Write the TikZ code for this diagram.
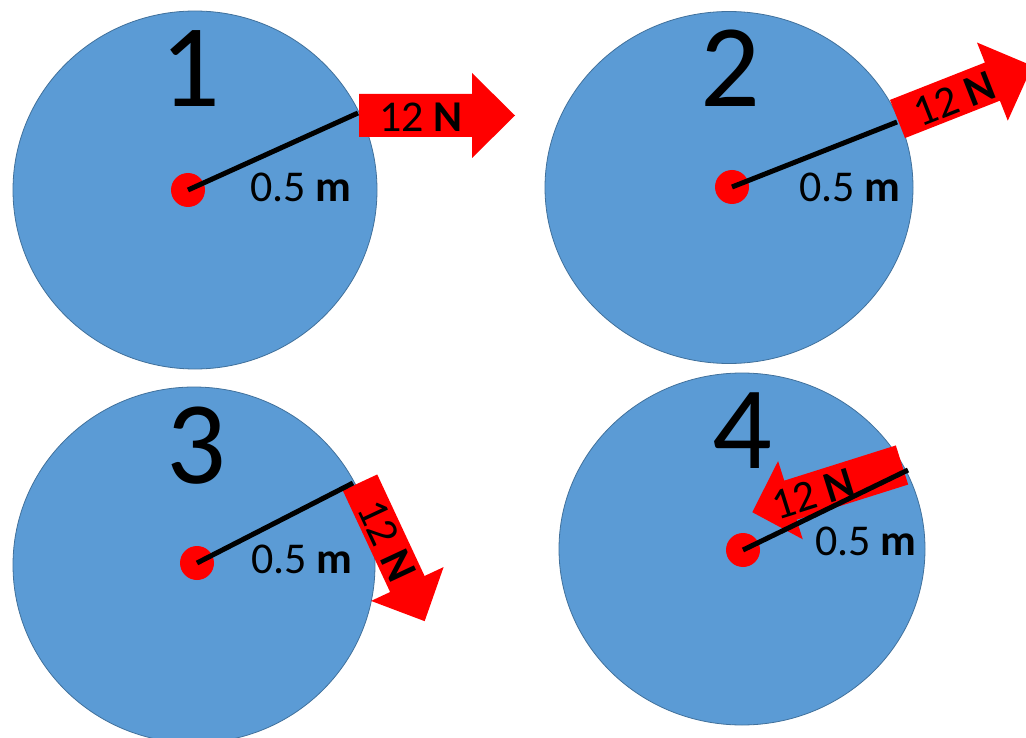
\documentclass[tikz,border=0pt]{standalone}
\usepackage{fontspec}
\setmainfont{Carlito}
\definecolor{discblue}{RGB}{91,155,213}
\definecolor{discedge}{RGB}{65,113,156}
\tikzset{
  disc/.style={fill=discblue, draw=discedge, line width=0.8pt},
  hub/.style={circle, fill=red, minimum size=34pt, inner sep=0pt},
  radiusline/.style={line width=5pt, black},
  forcefill/.style={fill=red},
  numlbl/.style={font=\fontsize{118}{118}\selectfont, anchor=base, inner sep=0pt},
  lenlbl/.style={font=\fontsize{44}{44}\selectfont, anchor=base, inner sep=0pt},
  forcelbl/.style={font=\fontsize{44}{44}\selectfont, inner sep=0pt},
}
\begin{document}
\begin{tikzpicture}[x=1pt,y=1pt]
\useasboundingbox (0,0) rectangle (1026,-738);
\fill[white] (0,0) rectangle (1026,-738);
% discs
\draw[disc] (195,-190) ellipse [x radius=182, y radius=179];
\draw[disc] (729,-187.5) ellipse [x radius=184, y radius=176];
\draw[disc] (194,-565) ellipse [x radius=181, y radius=178];
\draw[disc] (742,-549) ellipse [x radius=183, y radius=176];
% hubs
\node[hub] (d1) at (188,-190) {};
\node[hub] (d2) at (732,-187) {};
\node[hub] (d3) at (197,-563) {};
\node[hub] (d4) at (743,-550) {};
% line ends
\coordinate (e1) at (358,-113);
\coordinate (e2) at (897,-122);
\coordinate (e3) at (353,-483);
\coordinate (e4) at (908,-470);
% force arrows
\begin{scope}[shift={(359,-115.5)}]
  \fill[forcefill] (0,-21.5) -- (113,-21.5) -- (113,-42.5) -- (156,0) -- (113,42.5) -- (113,21.5) -- (0,21.5) -- cycle;
  \node[forcelbl] (f1) at (62,-2) {12 \textbf{N}};
\end{scope}
\begin{scope}[shift={(897.5,-119)}, rotate=21.5]
  \fill[forcefill] (0,-20.5) -- (102,-20.5) -- (102,-42) -- (145,0) -- (102,42) -- (102,20.5) -- (0,20.5) -- cycle;
  \node[forcelbl, rotate=21.5] (f2) at (60,-2) {12 \textbf{N}};
\end{scope}
\begin{scope}[shift={(360,-482.5)}, rotate=-65]
  \fill[forcefill] (0,-19) -- (112,-19) -- (112,-40) -- (153,0) -- (112,40) -- (112,19) -- (0,19) -- cycle;
  \node[forcelbl, rotate=-65] (f3) at (64,0) {12 \textbf{N}};
\end{scope}
\begin{scope}[shift={(902,-465)}, rotate=197.5]
  \fill[forcefill] (0,-20.5) -- (117,-20.5) -- (117,-41) -- (157,0) -- (117,41) -- (117,20.5) -- (0,20.5) -- cycle;
  \node[forcelbl, rotate=17.5] (f4) at (94,1) {12 \textbf{N}};
\end{scope}
% radius lines
\draw[radiusline] (d1.center) -- (e1);
\draw[radiusline] (d2.center) -- (e2);
\draw[radiusline] (d3.center) -- (e3);
\draw[radiusline] (d4.center) -- (e4);
% length labels
\node[lenlbl] (l1) at (301,-202) {0.5 \textbf{m}};
\node[lenlbl] (l2) at (850,-202) {0.5 \textbf{m}};
\node[lenlbl] (l3) at (302,-573) {0.5 \textbf{m}};
\node[lenlbl] (l4) at (866,-555) {0.5 \textbf{m}};
% numbers
\node[numlbl] (n1) at (190,-107) {1};
\node[numlbl] (n2) at (730,-107) {2};
\node[numlbl] (n3) at (196,-483) {3};
\node[numlbl] (n4) at (742,-468) {4};
\end{tikzpicture}
\end{document}
